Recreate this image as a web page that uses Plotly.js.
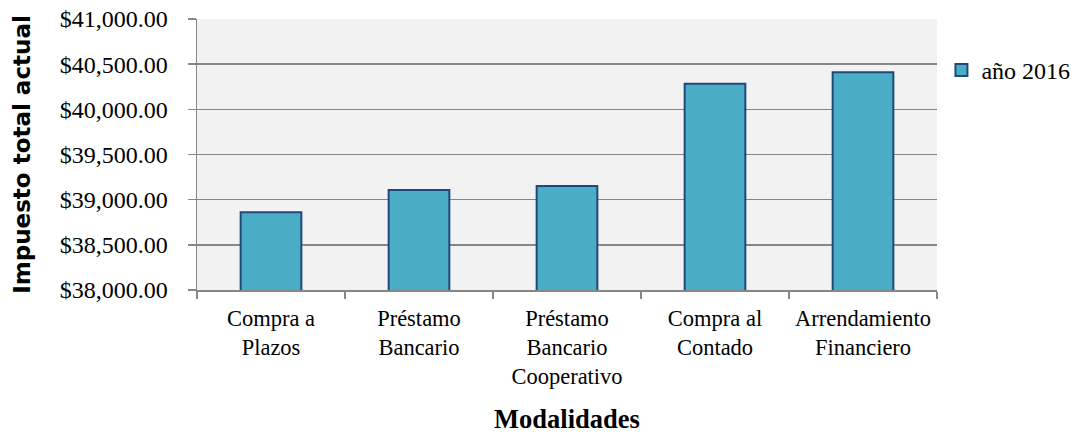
<!DOCTYPE html>
<html>
<head>
<meta charset="utf-8">
<script src="https://cdn.plot.ly/plotly-3.0.1.min.js"></script>
<style>html,body{margin:0;padding:0;background:#fff}#chart{width:1074px;height:436px}</style>
</head>
<body>
<div id="chart"></div>
<script>
const categories = ["Compra a<br>Plazos", "Préstamo<br>Bancario", "Préstamo<br>Bancario<br>Cooperativo", "Compra al<br>Contado", "Arrendamiento<br>Financiero"];
const values2016 = [38861, 39108, 39152, 40282, 40411];
const seriesName = "año 2016";
const yTicks = [38000, 38500, 39000, 39500, 40000, 40500, 41000];

const trace = {
  type: "bar",
  x: categories,
  y: values2016,
  name: seriesName,
  width: 0.41,
  marker: {color: "#4bacc6", line: {color: "#1f497d", width: 2}},
  showlegend: true,
  hoverinfo: "y"
};

const serif = "Liberation Serif, Times New Roman, serif";

const layout = {
  width: 1074, height: 436,
  margin: {l: 197, r: 137, t: 19, b: 146, autoexpand: false},
  paper_bgcolor: "#ffffff",
  plot_bgcolor: "#f2f2f2",
  font: {family: serif, size: 22, color: "#000"},
  xaxis: {
    type: "category",
    tickson: "boundaries",
    tickangle: 0,
    ticks: "outside", ticklen: 7, tickcolor: "#868686", tickwidth: 1.5,
    showline: true, linecolor: "#868686", linewidth: 1.5,
    showgrid: false,
    tickfont: {family: serif, size: 22.5, color: "#000"},
    ticklabelstandoff: 7,
    automargin: false,
    title: {text: "<b>Modalidades</b>", font: {family: serif, size: 26.5, color: "#000"}, standoff: 21}
  },
  yaxis: {
    range: [38000, 41000],
    tickvals: yTicks,
    tickformat: "$,.2f",
    ticks: "outside", ticklen: 8, tickcolor: "#868686", tickwidth: 1.5,
    ticklabelstandoff: 15,
    showline: true, linecolor: "#868686", linewidth: 1.5,
    showgrid: true, gridcolor: "#868686", gridwidth: 1.5,
    zeroline: false,
    tickfont: {family: serif, size: 24, color: "#000"},
    automargin: false,
    title: {text: "<b>Impuesto total actual</b>", font: {family: "DejaVu Sans, Verdana, sans-serif", size: 23, color: "#000"}, standoff: 22}
  },
  legend: {
    x: 1.006, xanchor: "left", y: 0.81, yanchor: "middle",
    font: {family: serif, size: 24, color: "#000"},
    bgcolor: "rgba(0,0,0,0)", itemwidth: 30
  }
};

Plotly.newPlot("chart", [trace], layout, {displayModeBar: false, staticPlot: true});
</script>
</body>
</html>
